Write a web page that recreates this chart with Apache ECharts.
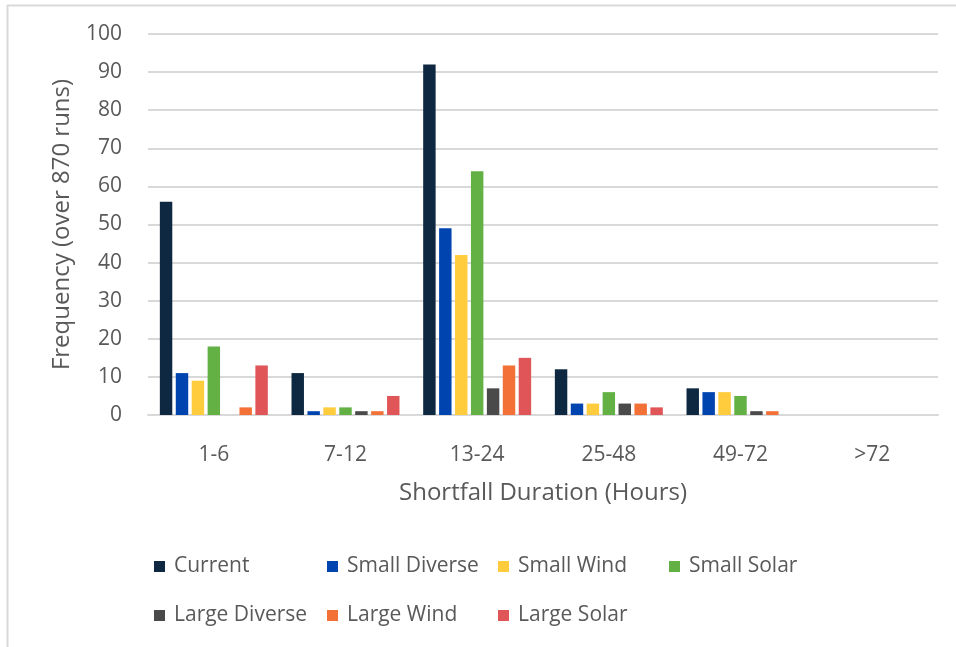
<!DOCTYPE html>
<html>
<head>
<meta charset="utf-8">
<script src="https://cdn.jsdelivr.net/npm/echarts@6/dist/echarts.min.js"></script>
<style>
html,body{margin:0;padding:0;background:#fff;}
#c{width:956px;height:647px;}
</style>
</head>
<body>
<div id="c"></div>
<script>
const categories = ['1-6', '7-12', '13-24', '25-48', '49-72', '>72'];
const seriesNames = ['Current', 'Small Diverse', 'Small Wind', 'Small Solar', 'Large Diverse', 'Large Wind', 'Large Solar'];
const current      = [56, 11, 92, 12, 7, 0];
const smallDiverse = [11, 1, 49, 3, 6, 0];
const smallWind    = [9, 2, 42, 3, 6, 0];
const smallSolar   = [18, 2, 64, 6, 5, 0];
const largeDiverse = [0, 1, 7, 3, 1, 0];
const largeWind    = [2, 1, 13, 3, 1, 0];
const largeSolar   = [13, 5, 15, 2, 0, 0];
const yTicks = [0, 10, 20, 30, 40, 50, 60, 70, 80, 90, 100];

const values = [current, smallDiverse, smallWind, smallSolar, largeDiverse, largeWind, largeSolar];
const colors = ['#0e2841', '#0044b0', '#ffcc3d', '#63b144', '#4a4a4a', '#f37037', '#e05558'];
const legendPos = [[154, 556], [327, 556], [498, 556], [669, 556], [154, 605], [327, 605], [498, 605]];
const font = '"Open Sans", "Noto Sans", sans-serif';
const txt = '#595959';

const chart = echarts.init(document.getElementById('c'));
chart.setOption({
  animation: false,
  backgroundColor: '#fff',
  graphic: [
    {type: 'line', shape: {x1: 7, y1: 5.5, x2: 956, y2: 5.5}, style: {stroke: '#d9d9d9', lineWidth: 2}},
    {type: 'line', shape: {x1: 7.5, y1: 5, x2: 7.5, y2: 647}, style: {stroke: '#d9d9d9', lineWidth: 2}}
  ],
  legend: seriesNames.map((n, i) => ({
    data: [n],
    left: legendPos[i][0],
    top: legendPos[i][1],
    padding: 0,
    itemWidth: 11,
    itemHeight: 11,
    itemGap: 0,
    icon: 'rect',
    textStyle: {fontFamily: font, fontSize: 21, color: txt, padding: [0, 0, 0, 4]},
    selectedMode: false
  })),
  grid: {left: 148, right: 18, top: 34, bottom: 232, containLabel: false},
  xAxis: {
    type: 'category',
    data: categories,
    axisLine: {lineStyle: {color: '#d9d9d9', width: 2}},
    axisTick: {show: false},
    axisLabel: {fontFamily: font, fontSize: 21, color: txt, margin: 30},
    name: 'Shortfall Duration (Hours)',
    nameLocation: 'middle',
    nameGap: 66,
    nameTextStyle: {fontFamily: font, fontSize: 24, color: txt}
  },
  yAxis: {
    type: 'value',
    min: 0, max: 100, interval: 10,
    axisLine: {show: false},
    axisTick: {show: false},
    splitLine: {lineStyle: {color: '#d9d9d9', width: 2}},
    axisLabel: {fontFamily: font, fontSize: 21, color: txt, margin: 26,
      formatter: v => yTicks.includes(v) ? String(v) : ''},
    name: 'Frequency (over 870 runs)',
    nameLocation: 'middle',
    nameGap: 74,
    nameTextStyle: {fontFamily: font, fontSize: 24, color: txt}
  },
  series: seriesNames.map((n, i) => ({
    name: n,
    type: 'bar',
    data: values[i],
    barGap: '28%',
    barCategoryGap: '18%',
    itemStyle: {color: colors[i], borderWidth: 0},
    color: colors[i]
  }))
});
</script>
</body>
</html>
